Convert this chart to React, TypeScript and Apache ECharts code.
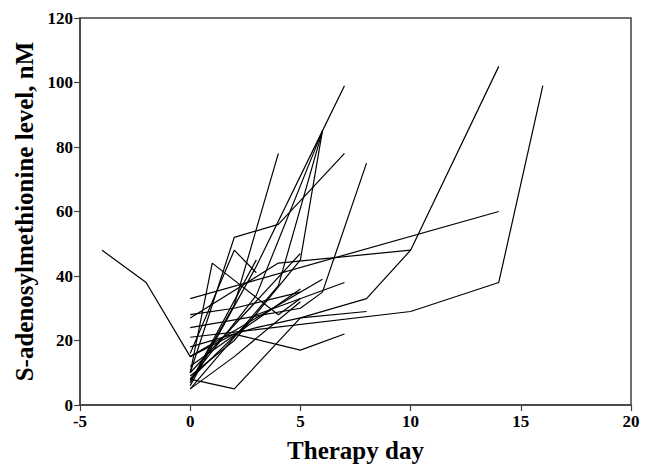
import React, { useEffect, useRef } from "react";
import * as echarts from "echarts";

// Patient trajectories: [therapy day, S-adenosylmethionine nM]
const patient01 = [[-4, 48], [-2, 38], [0, 15], [2, 22], [5, 17], [7, 22]];
const patient02 = [[0, 33], [14, 60]];
const patient03 = [[0, 21], [10, 29], [14, 38], [16, 99]];
const patient04 = [[0, 18], [3, 24], [5, 27], [8, 33], [10, 48], [14, 105]];
const patient05 = [[0, 27], [4, 44], [10, 48]];
const patient06 = [[0, 8], [2, 5], [5, 27], [8, 29]];
const patient07 = [[0, 10], [5, 47]];
const patient08 = [[0, 15], [6, 39]];
const patient09 = [[0, 8], [3, 28], [7, 38]];
const patient10 = [[0, 12], [5, 36]];
const patient11 = [[0, 10], [2, 52], [4, 56], [7, 78]];
const patient12 = [[0, 7], [2, 31], [4, 78]];
const patient13 = [[0, 6], [3, 43], [6, 85], [7, 99]];
const patient14 = [[0, 8], [3, 34], [6, 85]];
const patient15 = [[0, 5], [4, 37], [6, 85]];
const patient16 = [[0, 9], [2, 20], [5, 45], [6, 85]];
const patient17 = [[0, 24], [5, 30], [6, 35], [8, 75]];
const patient18 = [[0, 10], [1, 44], [4, 28], [5, 33]];
const patient19 = [[0, 16], [2, 48], [3, 41]];
const patient20 = [[0, 7], [3, 45]];
const patient21 = [[0, 28], [2, 30], [5, 35]];
const patient22 = [[0, 5], [2, 15], [5, 32]];

const patients = [
  patient01, patient02, patient03, patient04, patient05, patient06, patient07,
  patient08, patient09, patient10, patient11, patient12, patient13, patient14,
  patient15, patient16, patient17, patient18, patient19, patient20, patient21,
  patient22,
];

const xTitle = "Therapy day";
const yTitle = "S-adenosylmethionine level, nM";

const FONT = "'Liberation Serif', 'Times New Roman', serif";

export default function App() {
  const ref = useRef<HTMLDivElement>(null);
  useEffect(() => {
    if (!ref.current) return;
    const chart = echarts.init(ref.current, undefined, { renderer: "svg" });
    chart.setOption({
      animation: false,
      backgroundColor: "#ffffff",
      grid: {
        left: 80,
        top: 18,
        right: 16,
        bottom: 59,
        show: true,
        borderColor: "#404040",
        borderWidth: 1.5,
        containLabel: false,
        outerBoundsMode: "none",
      },
      xAxis: {
        type: "value",
        min: -5,
        max: 20,
        interval: 5,
        name: xTitle,
        nameLocation: "middle",
        nameGap: 33,
        nameTextStyle: { fontFamily: FONT, fontWeight: "bold", fontSize: 25, color: "#000" },
        axisLine: { show: true, onZero: false, lineStyle: { color: "#404040", width: 1.5 } },
        axisTick: { show: true, inside: false, length: 6, lineStyle: { color: "#404040", width: 1.2 } },
        axisLabel: { fontFamily: FONT, fontWeight: "bold", fontSize: 17, color: "#000", margin: 8 },
        splitLine: { show: false },
      },
      yAxis: {
        type: "value",
        min: 0,
        max: 120,
        interval: 20,
        name: yTitle,
        nameLocation: "middle",
        nameGap: 43,
        nameTextStyle: { fontFamily: FONT, fontWeight: "bold", fontSize: 25, color: "#000" },
        axisLine: { show: true, onZero: false, lineStyle: { color: "#404040", width: 1.5 } },
        axisTick: { show: true, inside: false, length: 6, lineStyle: { color: "#404040", width: 1.2 } },
        axisLabel: { fontFamily: FONT, fontWeight: "bold", fontSize: 17, color: "#000", margin: 7 },
        splitLine: { show: false },
      },
      series: patients.map((p, i) => ({
        type: "line",
        name: "P" + (i + 1),
        data: p,
        symbol: "none",
        lineStyle: { color: "#000", width: 1.2 },
        silent: true,
      })),
    });
    return () => chart.dispose();
  }, []);
  return <div ref={ref} style={{ width: 647, height: 464, position: "absolute", left: 0, top: 0 }} />;
}
